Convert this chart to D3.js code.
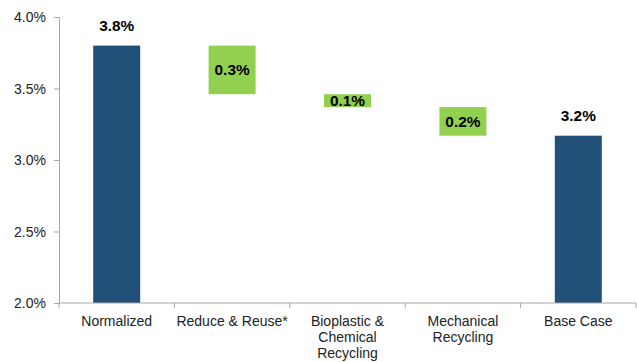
<!DOCTYPE html>
<html>
<head>
<meta charset="utf-8">
<script src="https://cdn.jsdelivr.net/npm/d3@7"></script>
<style>
  body { margin: 0; background: #fff; }
  svg text { font-family: "Liberation Sans", Arial, sans-serif; }
</style>
</head>
<body>
<div id="chart"></div>
<script>
// waterfall data
const categories = ["Normalized", "Reduce & Reuse*", "Bioplastic & Chemical Recycling", "Mechanical Recycling", "Base Case"];
const labelLines = [["Normalized"], ["Reduce & Reuse*"], ["Bioplastic &", "Chemical", "Recycling"], ["Mechanical", "Recycling"], ["Base Case"]];
const startValue = 3.8;
const deltas = [0.34, 0.09, 0.20];   // reductions from the normalized value
const endValue = 3.17;
const yTicks = [2.0, 2.5, 3.0, 3.5, 4.0];

var width = 637;
var height = 362;
var margin = { top: 17, right: 1, bottom: 59, left: 59 };

// build floating bars
let bars = [];
bars.push({ cat: categories[0], lo: 2.0, hi: startValue, label: startValue, total: true });
let level = startValue;
deltas.forEach((d, i) => {
    bars.push({ cat: categories[i + 1], lo: level - d, hi: level, label: d, total: false });
    level = level - d;
});
bars.push({ cat: categories[4], lo: 2.0, hi: endValue, label: endValue, total: true });

let svg = d3.select('#chart')
    .append('svg')
    .attr('width', width)
    .attr('height', height);

let x = d3.scaleBand()
    .domain(categories)
    .range([margin.left, width - margin.right])
    .paddingInner(0.593)
    .paddingOuter(0.2965);

let y = d3.scaleLinear()
    .domain([2.0, 4.0])
    .range([height - margin.bottom, margin.top]);

// bars
svg.selectAll('rect.bar')
    .data(bars)
    .enter()
    .append('rect')
    .attr('class', 'bar')
    .attr('x', d => x(d.cat))
    .attr('width', x.bandwidth())
    .attr('y', d => y(d.hi))
    .attr('height', d => y(d.lo) - y(d.hi))
    .attr('fill', d => d.total ? '#204f78' : '#92d050');

// value labels
svg.selectAll('text.val')
    .data(bars)
    .enter()
    .append('text')
    .attr('class', 'val')
    .attr('x', d => x(d.cat) + x.bandwidth() / 2)
    .attr('y', d => d.total ? y(d.hi) - 15 : (y(d.hi) + y(d.lo)) / 2 + 5.5)
    .attr('text-anchor', 'middle')
    .attr('font-size', 15.4)
    .attr('font-weight', 'bold')
    .attr('fill', '#000')
    .text(d => d.label.toFixed(1) + '%');

// y axis
let yAxis = d3.axisLeft(y)
    .tickValues(yTicks)
    .tickSize(5)
    .tickFormat(d => d.toFixed(1) + '%');

let gy = svg.append('g')
    .attr('transform', `translate(${margin.left},0)`)
    .call(yAxis);
gy.select('.domain').attr('stroke', '#a6a6a6');
gy.selectAll('.tick line').attr('stroke', '#a6a6a6');
gy.selectAll('.tick text')
    .attr('font-size', 14)
    .attr('fill', '#222')
    .attr('x', -13)
    .attr('dy', '0.35em')
    .style('font-family', '"Liberation Sans", Arial, sans-serif');

// x axis, ticks on band edges
let gx = svg.append('g')
    .attr('transform', `translate(0,${height - margin.bottom})`);
gx.append('line')
    .attr('x1', margin.left)
    .attr('x2', width - margin.right)
    .attr('stroke', '#a6a6a6');
let edges = categories.map(c => x(c) - x.step() * x.paddingInner() / 2);
edges.push(width - margin.right);
gx.selectAll('line.tk')
    .data(edges)
    .enter()
    .append('line')
    .attr('class', 'tk')
    .attr('x1', d => d)
    .attr('x2', d => d)
    .attr('y1', 0)
    .attr('y2', 5)
    .attr('stroke', '#a6a6a6');

let cl = gx.selectAll('text.cat')
    .data(categories)
    .enter()
    .append('text')
    .attr('class', 'cat')
    .attr('x', d => x(d) + x.bandwidth() / 2)
    .attr('y', 23)
    .attr('text-anchor', 'middle')
    .attr('font-size', 14)
    .attr('fill', '#222');
cl.each(function(d, i) {
    d3.select(this).selectAll('tspan')
        .data(labelLines[i])
        .enter()
        .append('tspan')
        .attr('x', x(d) + x.bandwidth() / 2)
        .attr('dy', (t, j) => j === 0 ? 0 : 16)
        .text(t => t);
});
</script>
</body>
</html>
